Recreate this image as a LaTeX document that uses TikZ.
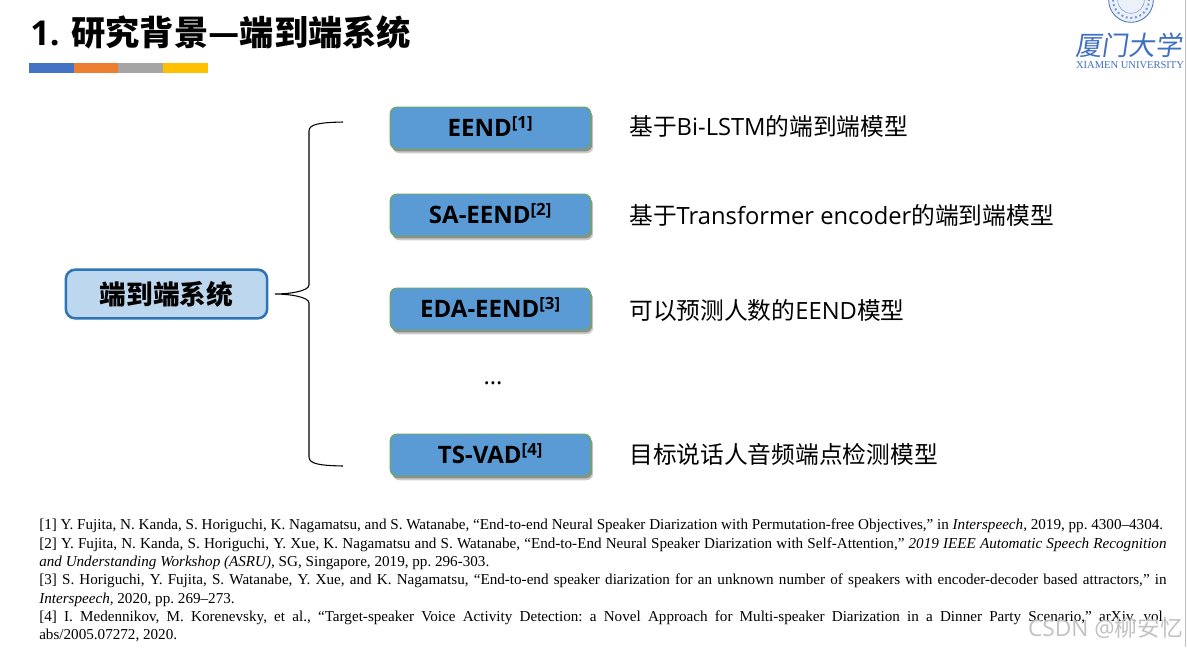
\documentclass[tikz,border=0pt]{standalone}
\usepackage{fontspec}
\setmainfont{Open Sans}
\newfontfamily\cjk{Noto Sans CJK SC}
\newfontfamily\reffont{Liberation Serif}
\usepackage{xcolor}
\usetikzlibrary{shadows}
\definecolor{barblue}{HTML}{4472C4}
\definecolor{barorange}{HTML}{ED7D31}
\definecolor{bargray}{HTML}{A5A5A5}
\definecolor{baryellow}{HTML}{FFC000}
\definecolor{modelblue}{HTML}{5B9BD5}
\definecolor{modelgreen}{HTML}{70AD47}
\definecolor{sysblue}{HTML}{BDD7EE}
\definecolor{sysline}{HTML}{2E75B6}
\definecolor{logoblue}{HTML}{3F6FC0}
\newcommand{\zh}[1]{{\cjk #1}}
\tikzset{
  modelbox/.style={rectangle,rounded corners=5pt,fill=modelblue,draw=modelgreen,line width=0.7pt,minimum width=150.5pt,minimum height=31.5pt,inner sep=0pt,text depth=2pt,font=\fontsize{18}{20}\selectfont\bfseries,text=black,drop shadow={shadow xshift=1.8pt,shadow yshift=-3.2pt,opacity=0.2,fill=black},drop shadow={shadow xshift=1pt,shadow yshift=-1.8pt,opacity=0.3,fill=black}},
  sysbox/.style={rectangle,rounded corners=7pt,fill=sysblue,draw=sysline,line width=1.9pt,minimum width=151pt,minimum height=36.5pt,inner sep=0pt,font=\cjk\bfseries\fontsize{20}{24}\selectfont,text=black},
  desctext/.style={anchor=west,inner sep=0pt,font=\fontsize{17.8}{21}\selectfont,text=black},
  barpart/.style={rectangle,minimum width=33.6pt,minimum height=7.5pt,inner sep=0pt},
}
\begin{document}
\begin{tikzpicture}[x=0.75pt,y=-0.75pt]
\useasboundingbox (0,0) rectangle (1187,647);
\fill[white] (0,0) rectangle (1187,647);
\fill[black!25] (1184.5,0) rectangle (1186,647);
% title and colour bar
\node[anchor=west,inner sep=0pt,font=\fontsize{25.7}{28}\selectfont\bfseries] (title) at (30,32) {1. \zh{研究背景—端到端系统}};
\node[barpart,fill=barblue] (bar1) at (51.5,68) {};
\node[barpart,fill=barorange] (bar2) at (96,68) {};
\node[barpart,fill=bargray] (bar3) at (140.5,68) {};
\node[barpart,fill=baryellow] (bar4) at (185.5,68) {};
% logo
\node[circle,draw=logoblue,fill=logoblue!10,line width=0.6pt,minimum size=33.5pt,inner sep=0pt] (seal) at (1131,0) {};
\node[circle,draw=logoblue!70,dotted,line width=1.5pt,minimum size=27pt,inner sep=0pt] (sealring) at (1131,0) {};
\node[circle,draw=logoblue!60,line width=0.5pt,minimum size=20pt,inner sep=0pt] (sealin) at (1131,0) {};
\node[inner sep=0pt,text=logoblue,font=\cjk\fontsize{20}{22}\selectfont,xslant=0.15] (logozh) at (1130,45) {厦门大学};
\node[inner sep=0pt,text=logoblue,font=\reffont\fontsize{7.9}{9}\selectfont] (logoen) at (1130,65) {XIAMEN UNIVERSITY};
% boxes
\node[sysbox] (system) at (166.5,294) {端到端系统};
\node[modelbox] (eend) at (490.5,128) {EEND\textsuperscript{[1]}};
\node[modelbox] (saeend) at (490.5,215) {SA-EEND\textsuperscript{[2]}};
\node[modelbox] (edaeend) at (490.5,309) {EDA-EEND\textsuperscript{[3]}};
\node[inner sep=0pt,font=\fontsize{17.8}{21}\selectfont] (dots) at (493,383) {...};
\node[modelbox] (tsvad) at (490.5,455) {TS-VAD\textsuperscript{[4]}};
\node[desctext] (eendtext) at (629,126) {\zh{基于}Bi-LSTM\zh{的端到端模型}};
\node[desctext] (saeendtext) at (629,215) {\zh{基于}Transformer encoder\zh{的端到端模型}};
\node[desctext] (edaeendtext) at (629,310) {\zh{可以预测人数的}EEND\zh{模型}};
\node[desctext] (tsvadtext) at (629,454) {\zh{目标说话人音频端点检测模型}};
% brace
\coordinate (bracetop) at (343,122);
\coordinate (bracetip) at (275,294);
\coordinate (bracebot) at (343,466);
\draw[black,line width=0.8pt] (bracetop) .. controls (320,122.5) and (309,124) .. (309,131) -- (309,285) .. controls (309,291) and (290,294) .. (bracetip) .. controls (290,294) and (309,297) .. (309,303) -- (309,457) .. controls (309,464) and (320,465.5) .. (bracebot);
% references
\node[anchor=north west,inner sep=0pt,text width=845.5pt,align=justify,font=\reffont\fontsize{11.35}{13.7}\selectfont] (refs) at (39,519) {\hyphenpenalty=10000\relax\frenchspacing
\mbox{[1] Y. Fujita, N. Kanda, S. Horiguchi, K. Nagamatsu, and S. Watanabe, “End-to-end Neural Speaker Diarization with Permutation-free Objectives,” in \textit{Interspeech,} 2019, pp. 4300–4304.}\par
[2] Y. Fujita, N. Kanda, S. Horiguchi, Y. Xue, K. Nagamatsu and S. Watanabe, “End-to-End Neural Speaker Diarization with Self-Attention,” \textit{2019 IEEE Automatic Speech Recognition\linebreak and Understanding Workshop (ASRU),} SG, Singapore, 2019, pp. 296-303.\par
[3] S. Horiguchi, Y. Fujita, S. Watanabe, Y. Xue, and K. Nagamatsu, “End-to-end speaker diarization for an unknown number of speakers with encoder-decoder based attractors,” in\linebreak \textit{Interspeech,} 2020, pp. 269–273.\par
[4] I. Medennikov, M. Korenevsky, et al., “Target-speaker Voice Activity Detection: a Novel Approach for Multi-speaker Diarization in a Dinner Party Scenario,” arXiv, vol.\linebreak abs/2005.07272, 2020.};
% watermark
\node[anchor=east,inner sep=0pt,text=black!24,font=\fontsize{17}{20}\selectfont] (mark) at (1183,628) {CSDN @\zh{柳安忆}};
\end{tikzpicture}
\end{document}
